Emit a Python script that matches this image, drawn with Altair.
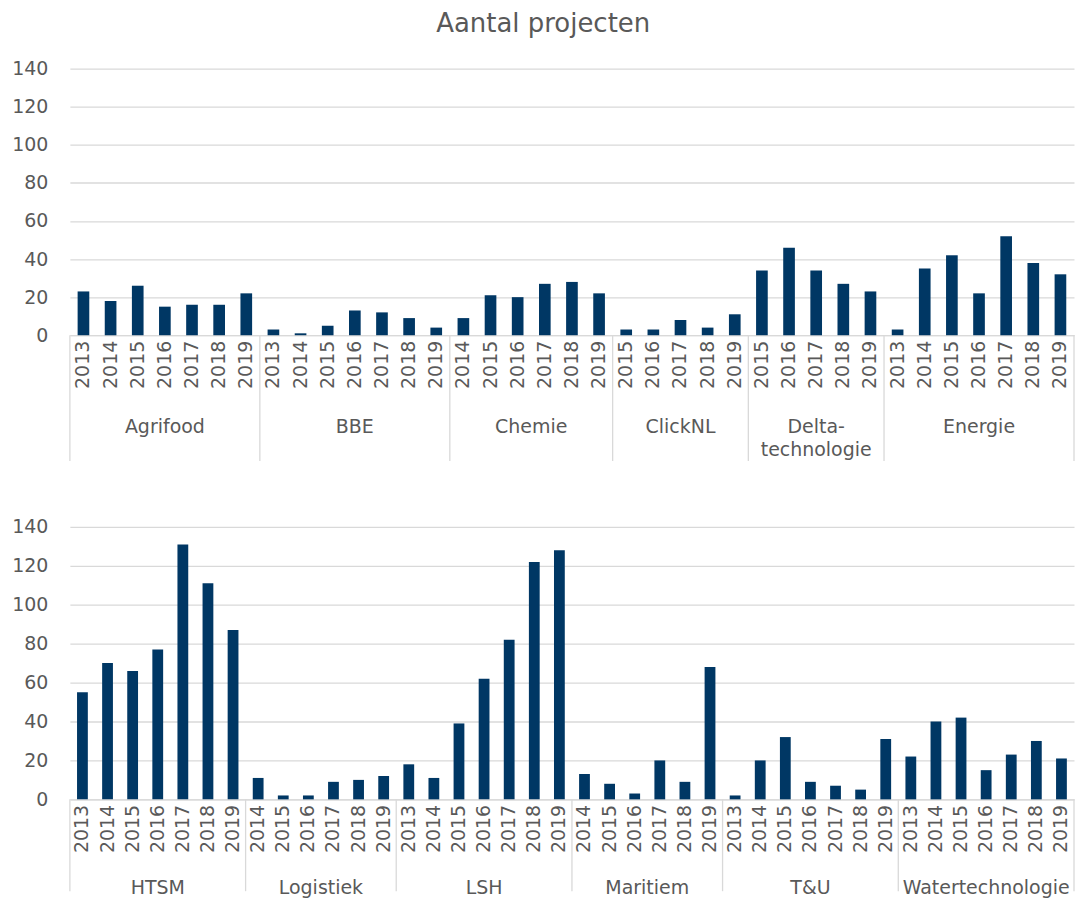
import altair as alt
import pandas as pd

# ---------------- data ----------------
cats_top = ["Agrifood", "BBE", "Chemie", "ClickNL", "Delta-technologie", "Energie"]
labels_top = ["Agrifood", "BBE", "Chemie", "ClickNL", "Delta-\ntechnologie", "Energie"]
years_top = [
    [2013, 2014, 2015, 2016, 2017, 2018, 2019],
    [2013, 2014, 2015, 2016, 2017, 2018, 2019],
    [2014, 2015, 2016, 2017, 2018, 2019],
    [2015, 2016, 2017, 2018, 2019],
    [2015, 2016, 2017, 2018, 2019],
    [2013, 2014, 2015, 2016, 2017, 2018, 2019],
]
agrifood = [23, 18, 26, 15, 16, 16, 22]
bbe = [3, 1, 5, 13, 12, 9, 4]
chemie = [9, 21, 20, 27, 28, 22]
clicknl = [3, 3, 8, 4, 11]
delta = [34, 46, 34, 27, 23]
energie = [3, 35, 42, 22, 52, 38, 32]
vals_top = [agrifood, bbe, chemie, clicknl, delta, energie]

cats_bot = ["HTSM", "Logistiek", "LSH", "Maritiem", "T&U", "Watertechnologie"]
labels_bot = ["HTSM", "Logistiek", "LSH", "Maritiem", "T&U", "Watertechnologie"]
years_bot = [
    [2013, 2014, 2015, 2016, 2017, 2018, 2019],
    [2014, 2015, 2016, 2017, 2018, 2019],
    [2013, 2014, 2015, 2016, 2017, 2018, 2019],
    [2014, 2015, 2016, 2017, 2018, 2019],
    [2013, 2014, 2015, 2016, 2017, 2018, 2019],
    [2013, 2014, 2015, 2016, 2017, 2018, 2019],
]
htsm = [55, 70, 66, 77, 131, 111, 87]
logistiek = [11, 2, 2, 9, 10, 12]
lsh = [18, 11, 39, 62, 82, 122, 128]
maritiem = [13, 8, 3, 20, 9, 68]
tu = [2, 20, 32, 9, 7, 5, 31]
water = [22, 40, 42, 15, 23, 30, 21]
vals_bot = [htsm, logistiek, lsh, maritiem, tu, water]

# ---------------- style ----------------
FONT = "DejaVu Sans"
TXT = "#595959"
GRID = "#d9d9d9"
BAR = "#003764"
FS = 19


def make_panel(cats, labels, years, vals, width, height, sep_len, label_dy):
    rows = []
    for ci, (c, ys, vs) in enumerate(zip(cats, years, vals)):
        for y, v in zip(ys, vs):
            rows.append({"key": f"{ci}_{y}", "cat": c, "year": y, "value": v})
    df = pd.DataFrame(rows)
    keys = list(df["key"])

    # category boundaries and label anchors
    starts, ends, odd, even = [], [], [], []
    for ci, (c, lab, ys) in enumerate(zip(cats, labels, years)):
        ks = [f"{ci}_{y}" for y in ys]
        starts.append({"key": ks[0]})
        n = len(ks)
        if n % 2 == 1:
            odd.append({"key": ks[n // 2], "label": lab})
        else:
            even.append({"key": ks[n // 2], "label": lab})
        if ci == len(cats) - 1:
            ends.append({"key": ks[-1]})

    xscale = alt.Scale(domain=keys, paddingInner=0, paddingOuter=0)

    bars = alt.Chart(df).mark_bar(color=BAR, width=alt.RelativeBandSize(0.43)).encode(
        x=alt.X(
            "key:N",
            scale=xscale,
            title=None,
            axis=alt.Axis(
                labelExpr="substring(datum.label, length(datum.label) - 4, length(datum.label))",
                labelAngle=-90,
                labelFontSize=FS,
                labelColor=TXT,
                labelFont=FONT,
                labelPadding=5,
                labelOverlap=False,
                ticks=False,
                domainColor=GRID,
                domainWidth=1.3,
                grid=False,
            ),
        ),
        y=alt.Y(
            "value:Q",
            scale=alt.Scale(domain=[0, 140], nice=False),
            title=None,
            axis=alt.Axis(
                values=[0, 20, 40, 60, 80, 100, 120, 140],
                domain=False,
                ticks=False,
                labelFontSize=FS,
                labelColor=TXT,
                labelFont=FONT,
                labelPadding=22,
                gridColor=GRID,
                gridWidth=1.3,
            ),
        ),
    )

    def rule_layer(data, band):
        return alt.Chart(pd.DataFrame(data)).mark_rule(color=GRID, strokeWidth=1.3).encode(
            x=alt.X("key:N", scale=xscale, title=None, bandPosition=band),
            y=alt.value(height),
            y2=alt.value(height + sep_len),
        )

    def text_layer(data, band):
        return alt.Chart(pd.DataFrame(data)).mark_text(
            font=FONT, fontSize=FS, color=TXT, baseline="top", align="center",
            lineBreak="\n", lineHeight=23,
        ).encode(
            x=alt.X("key:N", scale=xscale, title=None, bandPosition=band),
            y=alt.value(height + label_dy),
            text="label:N",
        )

    layers = [bars, rule_layer(starts, 0), rule_layer(ends, 1)]
    if odd:
        layers.append(text_layer(odd, 0.5))
    if even:
        layers.append(text_layer(even, 0))
    return alt.layer(*layers).properties(width=width, height=height)


top = make_panel(cats_top, labels_top, years_top, vals_top, 1006, 267, 126, 83)
bot = make_panel(cats_bot, labels_bot, years_bot, vals_bot, 1006, 273, 92, 80)

chart = (
    alt.vconcat(top, bot, spacing=56)
    .properties(
        title=alt.TitleParams(
            "Aantal projecten",
            fontSize=26,
            font=FONT,
            fontWeight="normal",
            color=TXT,
            anchor="middle",
            offset=23,
        ),
        padding={"left": 3, "top": 2, "right": 0, "bottom": 0},
    )
    .configure_view(stroke=None)
)

chart.save("out.html", embed_options={"renderer": "svg", "actions": False})
